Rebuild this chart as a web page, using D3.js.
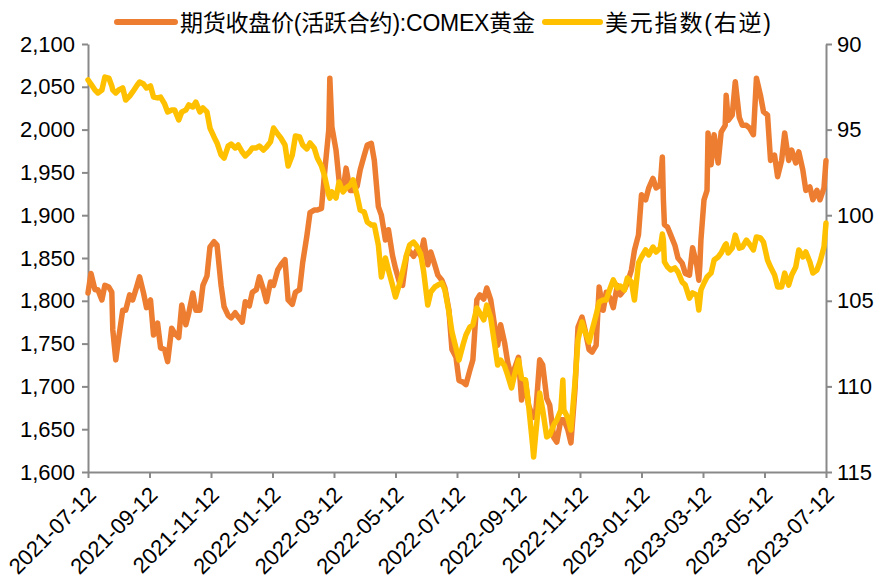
<!DOCTYPE html>
<html>
<head>
<meta charset="utf-8">
<script src="https://cdn.jsdelivr.net/npm/d3@7"></script>
<style>
  html, body { margin: 0; padding: 0; background: #ffffff; }
  svg { display: block; font-family: "Liberation Sans", "Noto Sans CJK SC", sans-serif; }
</style>
</head>
<body>
<svg id="chart" width="884" height="587"></svg>
<script>
// Sample dates (trading days) for both series
const dates = [
  "2021-07-12","2021-07-15","2021-07-19","2021-07-22","2021-07-26","2021-07-29","2021-08-02","2021-08-05","2021-08-06","2021-08-09",
  "2021-08-12","2021-08-16","2021-08-19","2021-08-23","2021-08-26","2021-08-30","2021-09-02","2021-09-06","2021-09-09","2021-09-13",
  "2021-09-16","2021-09-20","2021-09-23","2021-09-27","2021-09-30","2021-10-04","2021-10-07","2021-10-11","2021-10-14","2021-10-18",
  "2021-10-21","2021-10-25","2021-10-28","2021-11-01","2021-11-04","2021-11-08","2021-11-11","2021-11-15","2021-11-18","2021-11-22",
  "2021-11-25","2021-11-29","2021-12-02","2021-12-06","2021-12-09","2021-12-13","2021-12-16","2021-12-20","2021-12-23","2021-12-27",
  "2021-12-30","2022-01-03","2022-01-06","2022-01-10","2022-01-13","2022-01-17","2022-01-20","2022-01-24","2022-01-27","2022-01-31",
  "2022-02-03","2022-02-07","2022-02-10","2022-02-14","2022-02-17","2022-02-21","2022-02-24","2022-02-28","2022-03-03","2022-03-07",
  "2022-03-08","2022-03-10","2022-03-14","2022-03-17","2022-03-21","2022-03-24","2022-03-28","2022-03-31","2022-04-04","2022-04-07",
  "2022-04-11","2022-04-14","2022-04-18","2022-04-21","2022-04-25","2022-04-28","2022-05-02","2022-05-05","2022-05-09","2022-05-12",
  "2022-05-16","2022-05-19","2022-05-23","2022-05-26","2022-05-30","2022-06-02","2022-06-06","2022-06-09","2022-06-13","2022-06-16",
  "2022-06-20","2022-06-23","2022-06-27","2022-06-30","2022-07-04","2022-07-07","2022-07-11","2022-07-14","2022-07-18","2022-07-21",
  "2022-07-25","2022-07-28","2022-08-01","2022-08-04","2022-08-08","2022-08-11","2022-08-15","2022-08-18","2022-08-22","2022-08-25",
  "2022-08-29","2022-09-01","2022-09-05","2022-09-08","2022-09-12","2022-09-15","2022-09-19","2022-09-22","2022-09-26","2022-09-27",
  "2022-09-29","2022-10-03","2022-10-06","2022-10-10","2022-10-13","2022-10-17","2022-10-20","2022-10-24","2022-10-26","2022-10-27",
  "2022-10-31","2022-11-03","2022-11-07","2022-11-10","2022-11-14","2022-11-17","2022-11-21","2022-11-24","2022-11-28","2022-12-01",
  "2022-12-05","2022-12-08","2022-12-12","2022-12-15","2022-12-19","2022-12-22","2022-12-26","2022-12-29","2023-01-02","2023-01-05",
  "2023-01-09","2023-01-12","2023-01-16","2023-01-19","2023-01-23","2023-01-26","2023-01-30","2023-02-01","2023-02-02","2023-02-03",
  "2023-02-06","2023-02-09","2023-02-13","2023-02-16","2023-02-20","2023-02-23","2023-02-27","2023-03-02","2023-03-06","2023-03-08",
  "2023-03-09","2023-03-10","2023-03-13","2023-03-16","2023-03-17","2023-03-20","2023-03-23","2023-03-27","2023-03-30","2023-04-03",
  "2023-04-04","2023-04-06","2023-04-10","2023-04-13","2023-04-17","2023-04-20","2023-04-24","2023-04-27","2023-05-01","2023-05-04",
  "2023-05-08","2023-05-11","2023-05-15","2023-05-18","2023-05-22","2023-05-25","2023-05-29","2023-06-01","2023-06-05","2023-06-08",
  "2023-06-12","2023-06-15","2023-06-19","2023-06-22","2023-06-26","2023-06-29","2023-07-03","2023-07-06","2023-07-10","2023-07-12"
];

// COMEX gold, active contract close (USD/oz), left axis
const goldClose = [
  1809,1832,1813,1813,1801,1818,1816,1810,1766,1731,
  1757,1789,1789,1807,1801,1816,1828,1809,1792,1801,
  1760,1774,1745,1743,1729,1768,1762,1757,1795,1772,
  1786,1809,1789,1789,1818,1829,1863,1869,1865,1818,
  1793,1783,1780,1786,1781,1775,1799,1794,1810,1813,
  1828,1813,1799,1822,1818,1836,1842,1848,1801,1796,
  1810,1813,1845,1876,1903,1906,1906,1908,1950,2000,
  2060,2003,1976,1941,1929,1955,1929,1929,1934,1953,
  1970,1982,1984,1964,1910,1900,1871,1883,1853,1838,
  1821,1818,1853,1858,1852,1859,1853,1871,1842,1857,
  1842,1830,1824,1815,1789,1743,1734,1707,1705,1702,
  1719,1731,1801,1807,1802,1815,1801,1778,1748,1772,
  1751,1729,1710,1721,1734,1684,1705,1678,1665,1664,
  1668,1731,1725,1686,1678,1640,1635,1661,1661,1661,
  1649,1634,1696,1769,1781,1766,1743,1740,1748,1816,
  1789,1810,1803,1792,1818,1807,1813,1821,1836,1859,
  1877,1924,1918,1932,1943,1932,1935,1968,1918,1889,
  1886,1877,1865,1850,1844,1832,1830,1862,1842,1824,
  1842,1871,1918,1929,1996,1959,1994,1961,1997,2005,
  2040,2011,2017,2056,2014,2005,2005,2002,1994,2060,
  2040,2021,2017,1964,1970,1945,1964,1996,1964,1976,
  1961,1974,1953,1929,1933,1918,1929,1918,1932,1964
];

// US dollar index, right axis (inverted)
const dollarIndex = [
  92.10,92.34,92.69,92.86,92.69,91.93,91.99,92.45,92.69,92.86,
  92.69,92.57,93.27,93.04,92.80,92.45,92.22,92.34,92.57,92.45,
  93.10,93.15,93.10,93.50,93.97,93.86,93.86,94.44,93.97,93.86,
  93.56,93.68,93.39,93.97,93.74,93.97,94.91,95.43,95.78,96.48,
  96.66,95.96,95.84,96.07,95.90,96.31,96.54,96.31,96.07,96.07,
  95.96,96.19,96.02,95.72,94.91,95.26,95.49,95.90,97.13,96.48,
  95.37,95.43,95.90,96.13,95.78,96.07,96.66,97.13,97.71,98.82,
  99.00,98.64,99.00,98.06,98.64,98.41,98.24,97.94,98.88,99.70,
  99.81,100.40,100.57,100.57,101.74,103.61,102.50,103.20,104.08,104.78,
  104.02,103.32,102.32,101.74,101.57,101.80,102.27,103.32,105.25,104.49,
  104.19,104.08,103.96,104.37,105.65,106.82,107.76,108.46,107.58,107.00,
  106.53,106.41,105.42,105.71,106.12,105.25,106.00,107.17,108.75,108.46,
  108.81,109.33,110.09,109.33,108.46,109.51,109.63,111.09,113.42,114.12,
  112.84,110.38,111.38,112.95,112.84,112.25,111.96,111.38,109.63,111.38,
  111.85,112.55,109.80,107.29,106.24,106.82,107.41,106.71,105.83,105.07,
  104.95,104.95,104.25,103.78,104.25,104.14,104.37,103.67,103.90,104.95,
  102.79,102.44,102.03,102.32,101.86,102.15,101.92,101.10,101.45,102.73,
  103.03,103.20,103.08,103.32,103.90,104.08,104.84,104.54,104.66,105.54,
  104.95,104.37,103.96,103.61,103.55,103.38,102.62,102.44,102.21,101.74,
  101.68,102.21,101.92,101.16,101.92,101.86,101.45,101.68,102.03,101.27,
  101.33,101.57,102.62,103.03,103.49,104.19,104.19,103.38,104.08,103.49,
  103.03,102.03,102.44,102.15,102.73,103.38,103.20,102.73,101.86,100.46
];

const xTickLabels = [
  "2021-07-12","2021-09-12","2021-11-12","2022-01-12","2022-03-12","2022-05-12","2022-07-12",
  "2022-09-12","2022-11-12","2023-01-12","2023-03-12","2023-05-12","2023-07-12"
];
const goldTicks = [1600, 1650, 1700, 1750, 1800, 1850, 1900, 1950, 2000, 2050, 2100];
const dollarTicks = [90, 95, 100, 105, 110, 115];
const seriesNames = ["期货收盘价(活跃合约):COMEX黄金", "美元指数(右逆)"];
const seriesColors = ["#ED7D31", "#FFC000"];

const svg = d3.select("#chart");
const plot = { left: 88, right: 826, top: 44, bottom: 472 };
const axisColor = "#898989";
const fontSize = 22;

const parse = d3.timeParse("%Y-%m-%d");
const tickDates = xTickLabels.map(parse);
const step = (plot.right - plot.left) / (tickDates.length - 1);

// Date axis with evenly spaced two-month ticks
const x = d3.scaleTime()
  .domain(tickDates)
  .range(tickDates.map((d, i) => plot.left + i * step));
const yGold = d3.scaleLinear().domain([1600, 2100]).range([plot.bottom, plot.top]);
const yDollar = d3.scaleLinear().domain([90, 115]).range([plot.top, plot.bottom]);

const parsed = dates.map(parse);

function styleAxis(g) {
  g.select(".domain").attr("stroke", axisColor).attr("stroke-width", 2);
  g.selectAll(".tick line").attr("stroke", axisColor).attr("stroke-width", 2);
  g.selectAll(".tick text").attr("fill", "#000").attr("font-size", fontSize)
    .attr("font-family", "'Liberation Sans', sans-serif");
}

// Left axis: gold price
svg.append("g")
  .attr("transform", `translate(${plot.left},0)`)
  .call(d3.axisLeft(yGold).tickValues(goldTicks).tickFormat(d3.format(",")).tickSize(6).tickSizeOuter(0).tickPadding(7))
  .call(styleAxis);

// Right axis: dollar index (inverted)
svg.append("g")
  .attr("transform", `translate(${plot.right},0)`)
  .call(d3.axisRight(yDollar).tickValues(dollarTicks).tickSize(6).tickSizeOuter(0).tickPadding(5))
  .call(styleAxis);

// Bottom axis: dates, labels rotated
const xAxis = svg.append("g")
  .attr("transform", `translate(0,${plot.bottom})`)
  .call(d3.axisBottom(x).tickValues(tickDates).tickFormat(d3.timeFormat("%Y-%m-%d")).tickSize(6).tickSizeOuter(0))
  .call(styleAxis);
xAxis.selectAll(".tick text")
  .attr("text-anchor", "end")
  .attr("dy", null)
  .attr("y", null)
  .attr("transform", "translate(9,24) rotate(-45)");

// Series lines
const goldLine = d3.line()
  .x((d, i) => x(parsed[i]))
  .y(d => yGold(d));
const dollarLine = d3.line()
  .x((d, i) => x(parsed[i]))
  .y(d => yDollar(d));

svg.append("path")
  .datum(goldClose)
  .attr("fill", "none")
  .attr("stroke", seriesColors[0])
  .attr("stroke-width", 5.5)
  .attr("stroke-linejoin", "round")
  .attr("stroke-linecap", "round")
  .attr("d", goldLine);

svg.append("path")
  .datum(dollarIndex)
  .attr("fill", "none")
  .attr("stroke", seriesColors[1])
  .attr("stroke-width", 5.5)
  .attr("stroke-linejoin", "round")
  .attr("stroke-linecap", "round")
  .attr("d", dollarLine);

// Legend
const legend = svg.append("g").attr("font-size", 23).attr("fill", "#000");
const legendItems = [
  { x1: 117, x2: 175, tx: 180, w: 355 },
  { x1: 545, x2: 600, tx: 605, w: 166 }
];
legendItems.forEach((it, i) => {
  legend.append("line")
    .attr("x1", it.x1).attr("x2", it.x2)
    .attr("y1", 22).attr("y2", 22)
    .attr("stroke", seriesColors[i]).attr("stroke-width", 6)
    .attr("stroke-linecap", "round");
  legend.append("text")
    .attr("x", it.tx).attr("y", 31)
    .attr("textLength", it.w)
    .attr("lengthAdjust", "spacing")
    .text(seriesNames[i]);
});
</script>
</body>
</html>
